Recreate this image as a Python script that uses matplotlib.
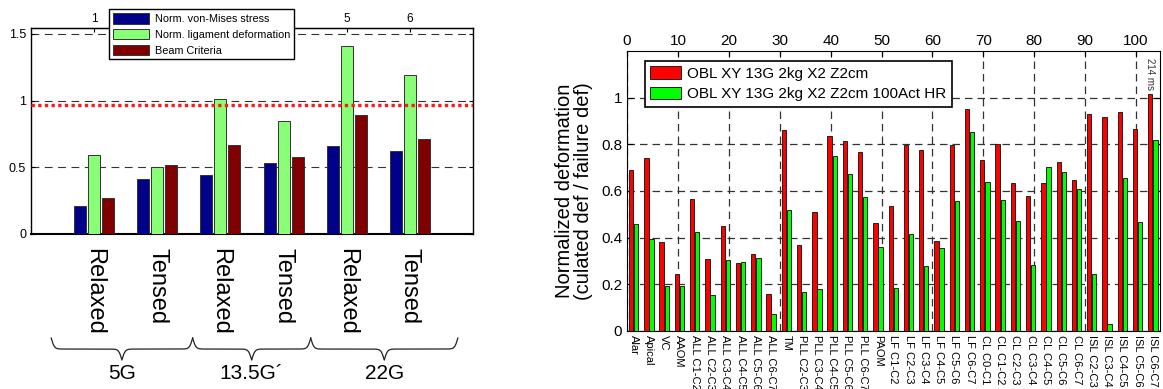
import numpy as np
import matplotlib.pyplot as plt
from matplotlib.ticker import FuncFormatter
from matplotlib.transforms import blended_transform_factory

plt.rcParams['font.family'] = ['Liberation Sans', 'DejaVu Sans']

# --- left chart data ---
conditions = ['Relaxed', 'Tensed', 'Relaxed', 'Tensed', 'Relaxed', 'Tensed']
g_levels = ['5G', '13.5G´', '22G']
vm_stress = [0.21, 0.41, 0.445, 0.535, 0.66, 0.62]
lig_deform = [0.59, 0.50, 1.015, 0.85, 1.41, 1.19]
beam_crit = [0.27, 0.52, 0.67, 0.58, 0.89, 0.71]
threshold = 0.97
left_series = ['Norm. von-Mises stress', 'Norm. ligament deformation', 'Beam Criteria']

# --- right chart data ---
ligaments = ['Alar', 'Apical', 'VC', 'AAOM',
             'ALL C1-C2', 'ALL C2-C3', 'ALL C3-C4', 'ALL C4-C5', 'ALL C5-C6', 'ALL C6-C7',
             'TM', 'PLL C2-C3', 'PLL C3-C4', 'PLL C4-C5', 'PLL C5-C6', 'PLL C6-C7',
             'PAOM', 'LF C1-C2', 'LF C2-C3', 'LF C3-C4', 'LF C4-C5', 'LF C5-C6', 'LF C6-C7',
             'CL C0-C1', 'CL C1-C2', 'CL C2-C3', 'CL C3-C4', 'CL C4-C5', 'CL C5-C6', 'CL C6-C7',
             'ISL C2-C3', 'ISL C3-C4', 'ISL C4-C5', 'ISL C5-C6', 'ISL C6-C7']
def_base = [0.689, 0.743, 0.383, 0.246,
            0.566, 0.309, 0.449, 0.291, 0.329, 0.160,
            0.863, 0.369, 0.511, 0.836, 0.816, 0.767,
            0.464, 0.534, 0.797, 0.774, 0.384, 0.797, 0.951,
            0.734, 0.803, 0.636, 0.577, 0.636, 0.723, 0.646,
            0.929, 0.917, 0.940, 0.867, 1.014]
def_hr = [0.460, 0.394, 0.194, 0.193,
          0.426, 0.156, 0.306, 0.294, 0.314, 0.074,
          0.520, 0.169, 0.179, 0.751, 0.674, 0.576,
          0.360, 0.186, 0.414, 0.280, 0.357, 0.557, 0.854,
          0.639, 0.561, 0.473, 0.283, 0.701, 0.681, 0.609,
          0.246, 0.031, 0.656, 0.469, 0.817]
right_series = ['OBL XY 13G 2kg X2 Z2cm', 'OBL XY 13G 2kg X2 Z2cm 100Act HR']
note_text = '214 ms'

W, H = 1163, 389
fig = plt.figure(figsize=(W / 100, H / 100), dpi=100)
gfmt = FuncFormatter(lambda v, p: '%g' % v)

# ================= left chart =================
ax1 = fig.add_axes([31 / W, 1 - 234 / H, 442 / W, 206 / H])
xg = np.arange(1, len(conditions) + 1)
bw = 0.19
off = 0.222
for k, (vals, col) in enumerate(zip([vm_stress, lig_deform, beam_crit],
                                    ['#000088', '#88FF77', '#800000'])):
    ax1.bar(xg + (k - 1) * off, vals, bw, color=col, edgecolor='#333333',
            linewidth=0.7, label=left_series[k], zorder=3)
ax1.axhline(threshold, color='#FF1A1A', ls=(0, (1, 1)), lw=2.4, zorder=4)
ax1.set_xlim(0, 7)
ax1.set_ylim(0, 1.545)
ax1.set_yticks([0, 0.5, 1, 1.5])
ax1.yaxis.set_major_formatter(gfmt)
ax1.yaxis.grid(True, ls=(0, (7, 5)), color='#333333', lw=0.8)
ax1.set_axisbelow(True)
ax1.set_xticks(xg, conditions, rotation=-90, fontsize=17)
ax1.tick_params(axis='x', direction='in', length=3, pad=10)
ax1.tick_params(axis='y', direction='in', length=3, labelsize=9, right=True)
for lab in ax1.get_xticklabels():
    lab.set_va('top')
sec1 = ax1.secondary_xaxis('top')
sec1.set_xticks(xg, [str(i) for i in xg])
sec1.tick_params(direction='in', length=3, labelsize=8.5, pad=2)
for s in ax1.spines.values():
    s.set_linewidth(1.0)
ax1.spines['bottom'].set_linewidth(1.5)
leg1 = ax1.legend(loc='upper left', bbox_to_anchor=(0.176, 1.09), borderaxespad=0,
                  fontsize=7.8, fancybox=False, framealpha=1,
                  edgecolor='black', handlelength=3.4, handleheight=1.1,
                  labelspacing=0.45, borderpad=0.35, handletextpad=0.5)
leg1.get_frame().set_linewidth(1.0)


def draw_brace(ax, x0, x1, label, ytop=-0.505, ytip=-0.612, ytext=-0.675):
    tr = blended_transform_factory(ax.transData, ax.transAxes)
    n = 201
    x = np.linspace(x0, x1, n)
    half = x[:n // 2 + 1]
    beta = 40.0
    yh = 1 / (1 + np.exp(-beta * (half - half[0]))) + 1 / (1 + np.exp(-beta * (half - half[-1])))
    y = np.concatenate((yh, yh[-2::-1]))
    y = ytop - (y - 0.5) * (ytop - ytip)
    ax.plot(x, y, color='#222222', lw=0.9, transform=tr, clip_on=False)
    ax.text((x0 + x1) / 2, ytext, label, transform=tr, ha='center', va='center', fontsize=15)


brace_spans = [(0.32, 2.56), (2.56, 4.43), (4.43, 6.76)]
for (a, b), lab in zip(brace_spans, g_levels):
    draw_brace(ax1, a, b, lab)

# ================= right chart =================
ax2 = fig.add_axes([627 / W, 1 - 331 / H, 533 / W, 280 / H])
idx = np.arange(len(ligaments))
xr = 3 * idx + 0.8
rw = 0.85
ax2.bar(xr, def_base, rw, color='#FF0000', edgecolor='#222222', linewidth=0.7,
        label=right_series[0], zorder=3)
ax2.bar(xr + 1.0, def_hr, rw, color='#00FF00', edgecolor='#222222', linewidth=0.7,
        label=right_series[1], zorder=3)
ax2.set_xlim(0, 104.7)
ax2.set_ylim(0, 1.2)
ax2.set_yticks([0, 0.2, 0.4, 0.6, 0.8, 1.0])
ax2.yaxis.set_major_formatter(gfmt)
ax2.set_xticks(np.arange(0, 101, 10))
ax2.tick_params(axis='x', which='major', top=True, labeltop=True, bottom=False,
                labelbottom=False, direction='in', length=4, labelsize=11, pad=2)
ax2.set_xticks(xr + 0.5, ligaments, minor=True)
ax2.tick_params(axis='x', which='minor', length=0, labelsize=8, pad=3, labelrotation=-90)
for lab in ax2.get_xticklabels(minor=True):
    lab.set_va('top')
ax2.tick_params(axis='y', direction='in', length=4, labelsize=11, right=True)
ax2.grid(True, which='major', ls=(0, (6, 4)), color='#333333', lw=0.9)
ax2.set_axisbelow(True)
ax2.set_ylabel('Normalized deformation\n(culated def / failure def)', fontsize=14.5,
               labelpad=6, linespacing=1.0)
ax2.text(xr[-1], 1.10, note_text, rotation=-90, ha='center', va='center',
         fontsize=7, color='#333333')
leg2 = ax2.legend(loc='upper left', bbox_to_anchor=(0.034, 0.964), borderaxespad=0,
                  fontsize=11, fancybox=False, framealpha=1,
                  edgecolor='black', handlelength=2.0, handleheight=0.85,
                  labelspacing=0.4, borderpad=0.35, handletextpad=0.4)
leg2.get_frame().set_linewidth(1.2)

fig.savefig('out.png', dpi=100)
